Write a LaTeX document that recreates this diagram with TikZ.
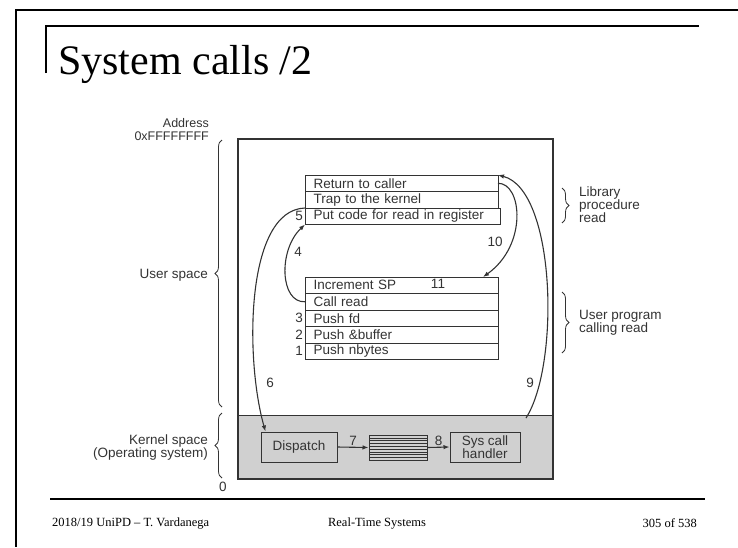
\documentclass[tikz,border=0pt]{standalone}
\usepackage{fontspec}
\setmainfont{Liberation Serif}
\newfontfamily\diagfont{Liberation Sans}
\usetikzlibrary{positioning,decorations.pathreplacing,arrows.meta}
\definecolor{kgray}{HTML}{D0D0D0}
\definecolor{ink}{HTML}{333333}
\newcommand{\dsize}{\diagfont\fontsize{13.5}{13}\selectfont}

\begin{document}
\begin{tikzpicture}[x=1pt,y=-1pt,
  lbl/.style={font=\dsize, text=ink, inner sep=1pt},
  row/.style={draw=ink, line width=0.9pt, outer sep=0pt, minimum height=16.5pt,
    text width=176pt, inner xsep=8.5pt, inner ysep=0pt, align=left, font=\dsize, text=ink},
  kbox/.style={draw=ink, line width=1pt, fill=kgray, align=center, inner sep=0pt,
    font=\dsize, text=ink},
  arr/.style={-{Latex[length=6pt,width=4.5pt]}, draw=ink, line width=1.1pt},
  brc/.style={decorate, decoration={brace, amplitude=7pt}, draw=ink, line width=0.8pt},
  foot/.style={font=\fontsize{12.5}{14}\selectfont, inner sep=0pt}]
  \useasboundingbox (0,0) rectangle (738,547);

  % --- Slide frame, title and footer ---
  \draw[line width=2.5pt] (738,10) -- (16,10) -- (16,547);
  \draw[line width=1.5pt] (46,73) -- (46,26) -- (699,26);
  \node[anchor=base west, inner sep=0pt, font=\fontsize{42}{44}\selectfont] (title) at (58,74) {System calls /2};
  \draw[line width=2pt] (50,499) -- (705,499);
  \node[foot, anchor=west] (fleft) at (52,523) {2018/19 UniPD -- T. Vardanega};
  \node[foot] (fmid) at (377,523) {Real-Time Systems};
  \node[foot, anchor=east] (fright) at (697,523) {305 of 538};

  % --- Address space: user part and kernel part ---
  \fill[kgray] (238,415) rectangle (553,479);
  \draw[ink, line width=1pt] (238,415) -- (553,415);
  \draw[ink, line width=1.2pt] (238,139) rectangle (553,479);

  % Library procedure
  \node[row, anchor=north west] (ret) at (305,175) {Return to caller};
  \node[row, below=0pt of ret] (trap) {Trap to the kernel};
  \node[row, anchor=north west, text width=178pt] (putcode) at (trap.south west) {Put code for read in register};
  \node[lbl, left=1pt of putcode] (n5) {5};

  % User program
  \node[row, anchor=north west] (incsp) at (305,277) {Increment SP};
  \node[row, below=0pt of incsp] (callrd) {Call read};
  \node[row, below=0pt of callrd] (pushfd) {Push fd};
  \node[row, below=0pt of pushfd] (pushbuf) {Push \&buffer};
  \node[row, below=0pt of pushbuf] (pushnb) {Push nbytes};
  \node[lbl, left=1pt of pushfd] (n3) {3};
  \node[lbl, left=1pt of pushbuf] (n2) {2};
  \node[lbl, left=1pt of pushnb] (n1) {1};
  \node[lbl] (n11) at (438,284) {11};

  % Kernel side
  \node[kbox, minimum width=76pt, minimum height=30pt] (disp) at (299,447) {Dispatch};
  \node[kbox, minimum width=58pt, minimum height=25pt] (buf) at (398,447.5) {};
  \foreach \i in {1,...,8}
    \draw[ink, line width=0.6pt] (369,{435+2.8*\i}) -- (427,{435+2.8*\i});
  \node[kbox, minimum width=70pt, minimum height=30pt] (hand) at (485,447) {Sys call\\handler};
  \coordinate (s9) at (526,418);

  % Steps
  \draw[arr] (callrd.west) .. controls (280,303) and (278,250) .. (putcode.south west);
  \node[lbl] (n4) at (298,252) {4};
  \draw[arr] (trap.south west) .. controls (245,210) and (245,360) .. ([xshift=5pt]disp.north west);
  \node[lbl] (n6) at (270,383) {6};
  \draw[arr] (disp.east) -- (buf.west) node[lbl, midway, above] (n7) {7};
  \draw[arr] (buf.east) -- (hand.west) node[lbl, midway, above] (n8) {8};
  \draw[arr] (s9) .. controls (560,365) and (556,190) .. (ret.north east);
  \node[lbl] (n9) at (530,383) {9};
  \draw[arr] (ret.east) .. controls (522,183) and (528,245) .. ([xshift=-15pt]incsp.north east);
  \node[lbl] (n10) at (495,242) {10};

  % --- Braces and side labels ---
  \node[lbl, anchor=base east, font=\diagfont\fontsize{12.5}{13}\selectfont] (addr) at (210,127) {Address};
  \node[lbl, anchor=base east, font=\diagfont\fontsize{12.5}{13}\selectfont] (atop) at (210,140) {0xFFFFFFFF};
  \draw[brc] (222,407) -- (222,140);
  \node[lbl, anchor=east] (us) at (209,275) {User space};
  \draw[brc] (222,478) -- (222,413);
  \node[lbl, anchor=east, align=right] (ks) at (209,447) {Kernel space\\(Operating system)};
  \node[lbl] (zero) at (223,487) {0};
  \draw[brc] (562,188) -- (562,223);
  \node[lbl, anchor=west, align=left] (lib) at (578,205) {Library\\procedure\\read};
  \draw[brc] (562,292) -- (562,353);
  \node[lbl, anchor=west, align=left] (upg) at (578,323) {User program\\calling read};
\end{tikzpicture}
\end{document}
